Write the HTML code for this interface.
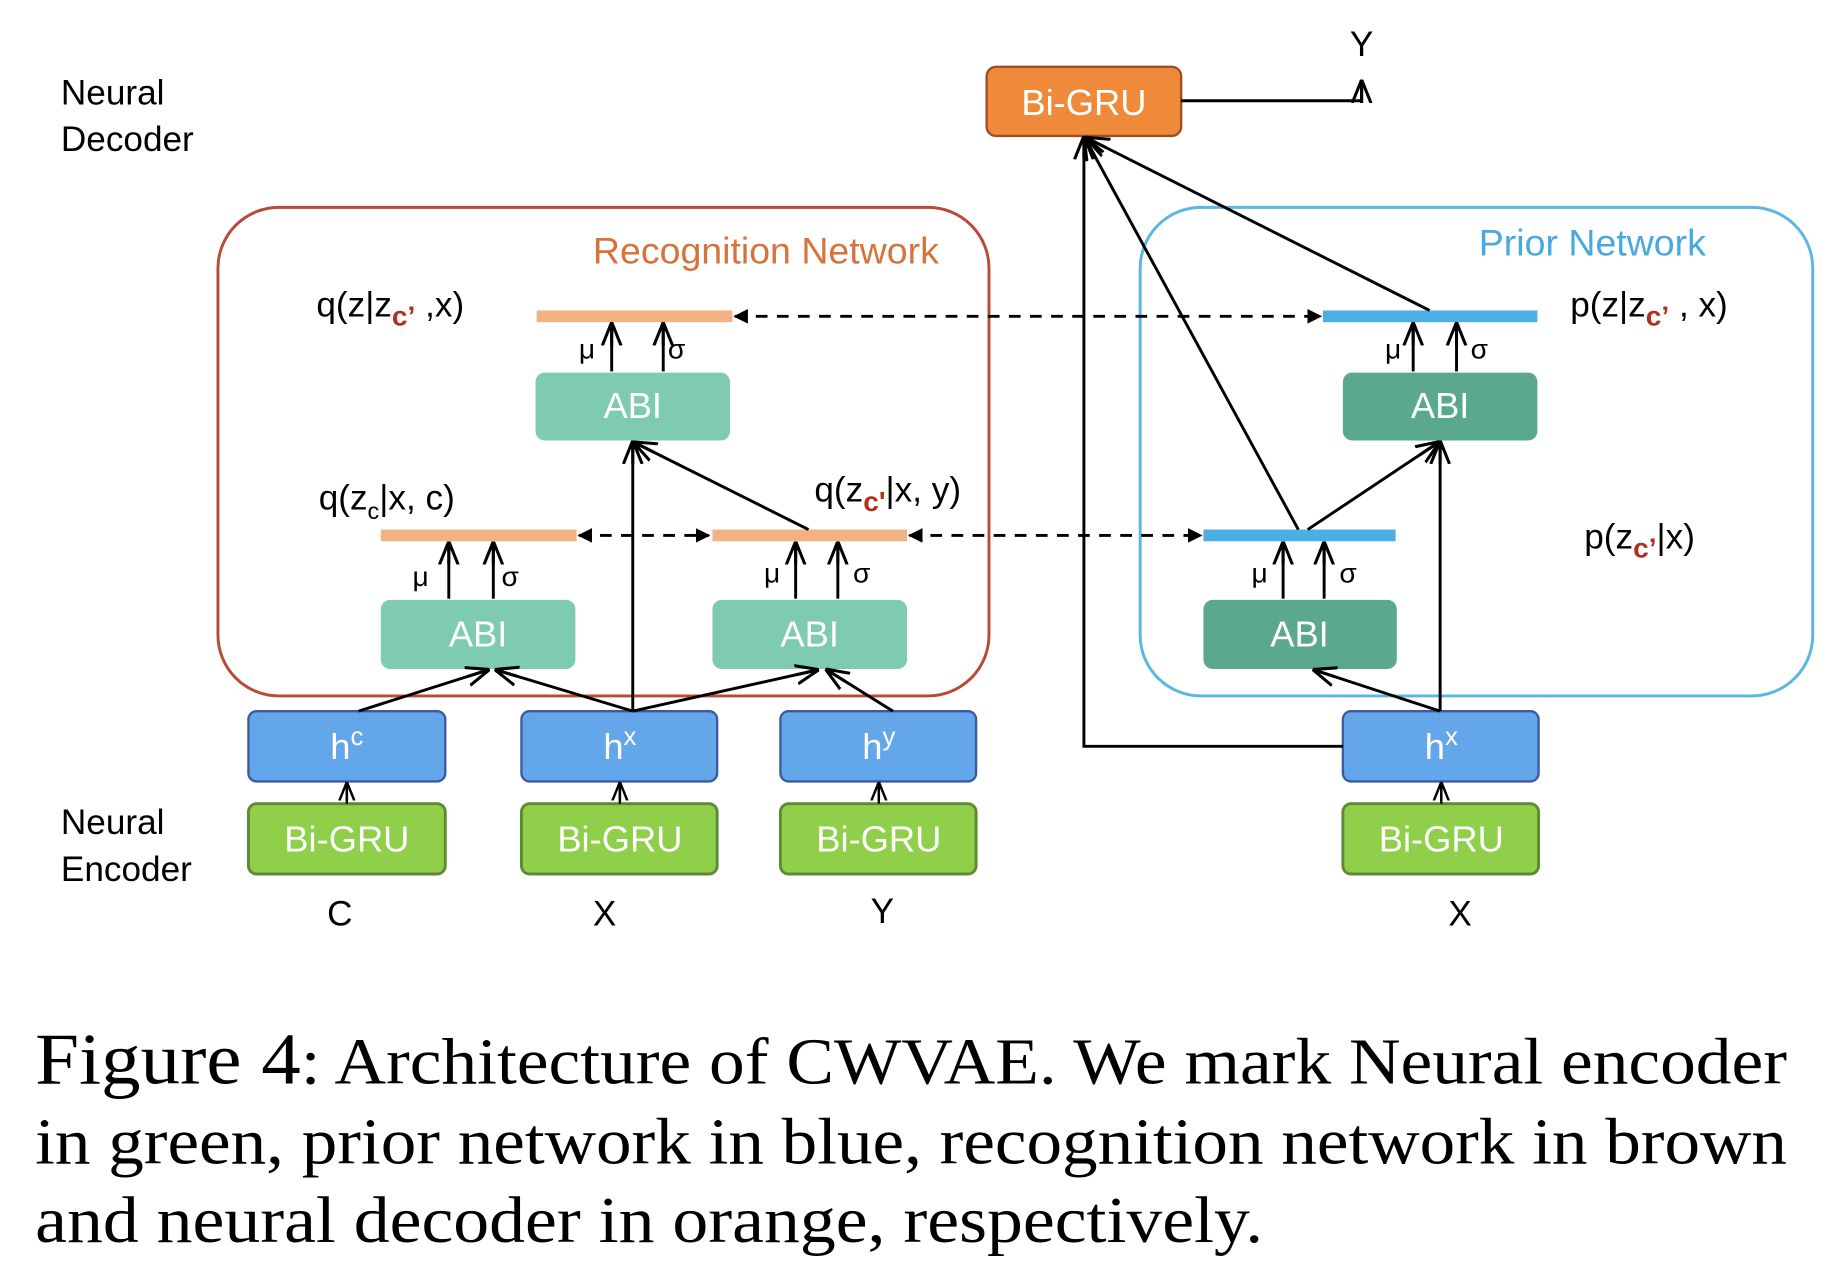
<!DOCTYPE html>
<html><head><meta charset="utf-8"><style>
html,body{margin:0;padding:0;background:#fff;}
svg{display:block}
text{font-family:"Liberation Sans",sans-serif;}
text.cap{font-family:"Liberation Serif",serif;}
</style></head><body>
<svg width="1828" height="1270" viewBox="0 0 1560 1084" preserveAspectRatio="none" xmlns="http://www.w3.org/2000/svg">
<defs>
<marker id="o" viewBox="0 0 10 10" refX="9" refY="5" markerWidth="8" markerHeight="8" orient="auto"><path d="M0,1 L10,5 L0,9 M10,5 L0,5" fill="none" stroke="#000" stroke-width="1.3"/></marker>
<marker id="f" viewBox="0 0 10 10" refX="9" refY="5" markerWidth="5" markerHeight="5" orient="auto-start-reverse"><path d="M0,0 L10,5 L0,10 z" fill="#000"/></marker>
</defs>
<g font-size="30" fill="#000">
<text x="52" y="89">Neural</text><text x="52" y="129">Decoder</text>
<text x="52" y="712">Neural</text><text x="52" y="752">Encoder</text>
</g>
<rect x="186" y="177" width="658" height="417" rx="52" fill="none" stroke="#b94a35" stroke-width="2.5"/>
<rect x="973" y="177" width="574" height="417" rx="52" fill="none" stroke="#5ab6e2" stroke-width="2.5"/>
<text x="506" y="225" font-size="32" fill="#d5733a">Recognition Network</text>
<text x="1262" y="218" font-size="32" fill="#48a9e0">Prior Network</text>
<rect x="842" y="57" width="166" height="59" rx="8" fill="#ef8a3b" stroke="#a04e20" stroke-width="2"/>
<text x="925" y="98" font-size="31" fill="#fff" text-anchor="middle">Bi-GRU</text>
<text x="1162" y="48" font-size="30" text-anchor="middle">Y</text>
<polyline points="1008,86 1162,86 1162,70" fill="none" stroke="#000" stroke-width="2.5" marker-end="url(#o)"/>
<rect x="458" y="265" width="167" height="10" fill="#f4b183"/>
<rect x="325" y="452" width="167" height="10" fill="#f4b183"/>
<rect x="608" y="452" width="166" height="10" fill="#f4b183"/>
<rect x="1129" y="265" width="183" height="10" fill="#4baee4"/>
<rect x="1027" y="452" width="164" height="10" fill="#4baee4"/>
<g font-size="31" fill="#fff" text-anchor="middle">
<rect x="457" y="318" width="166" height="58" rx="8" fill="#7ecbb0"/><text x="540" y="357">ABI</text>
<rect x="325" y="512" width="166" height="59" rx="8" fill="#7ecbb0"/><text x="408" y="552">ABI</text>
<rect x="608" y="512" width="166" height="59" rx="8" fill="#7ecbb0"/><text x="691" y="552">ABI</text>
<rect x="1146" y="318" width="166" height="58" rx="8" fill="#5aa98c"/><text x="1229" y="357">ABI</text>
<rect x="1027" y="512" width="165" height="59" rx="8" fill="#5aa98c"/><text x="1109" y="552">ABI</text>
</g>
<g font-size="31" fill="#fff" text-anchor="middle">
<rect x="212" y="607" width="168" height="60" rx="7" fill="#63a6ea" stroke="#3b5c9c" stroke-width="2"/><text x="296" y="648">h<tspan dy="-12" font-size="22">c</tspan></text>
<rect x="445" y="607" width="167" height="60" rx="7" fill="#63a6ea" stroke="#3b5c9c" stroke-width="2"/><text x="529" y="648">h<tspan dy="-12" font-size="22">x</tspan></text>
<rect x="666" y="607" width="167" height="60" rx="7" fill="#63a6ea" stroke="#3b5c9c" stroke-width="2"/><text x="750" y="648">h<tspan dy="-12" font-size="22">y</tspan></text>
<rect x="1146" y="607" width="167" height="60" rx="7" fill="#63a6ea" stroke="#3b5c9c" stroke-width="2"/><text x="1230" y="648">h<tspan dy="-12" font-size="22">x</tspan></text>
<rect x="212" y="686" width="168" height="60" rx="7" fill="#8fcf4a" stroke="#5f8a35" stroke-width="2.5"/><text x="296" y="727">Bi-GRU</text>
<rect x="445" y="686" width="167" height="60" rx="7" fill="#8fcf4a" stroke="#5f8a35" stroke-width="2.5"/><text x="529" y="727">Bi-GRU</text>
<rect x="666" y="686" width="167" height="60" rx="7" fill="#8fcf4a" stroke="#5f8a35" stroke-width="2.5"/><text x="750" y="727">Bi-GRU</text>
<rect x="1146" y="686" width="167" height="60" rx="7" fill="#8fcf4a" stroke="#5f8a35" stroke-width="2.5"/><text x="1230" y="727">Bi-GRU</text>
</g>
<g font-size="30" text-anchor="middle">
<text x="290" y="790">C</text><text x="516" y="790">X</text><text x="753" y="788">Y</text><text x="1246" y="790">X</text>
</g>
<g stroke="#000" stroke-width="2" marker-end="url(#o)">
<line x1="296" y1="686" x2="296" y2="669"/><line x1="529" y1="686" x2="529" y2="669"/>
<line x1="750" y1="686" x2="750" y2="669"/><line x1="1230" y1="686" x2="1230" y2="669"/>
</g>
<g stroke="#000" stroke-width="2.5" marker-end="url(#o)">
<line x1="522" y1="317" x2="522" y2="277"/><line x1="566" y1="317" x2="566" y2="277"/>
<line x1="383" y1="511" x2="383" y2="464"/><line x1="421" y1="511" x2="421" y2="464"/>
<line x1="679" y1="511" x2="679" y2="464"/><line x1="715" y1="511" x2="715" y2="464"/>
<line x1="1206" y1="317" x2="1206" y2="277"/><line x1="1243" y1="317" x2="1243" y2="277"/>
<line x1="1095" y1="511" x2="1095" y2="464"/><line x1="1130" y1="511" x2="1130" y2="464"/>
</g>
<g font-size="24">
<text x="494" y="306">μ</text><text x="570" y="306">σ</text>
<text x="352" y="500">μ</text><text x="428" y="500">σ</text>
<text x="652" y="497">μ</text><text x="728" y="497">σ</text>
<text x="1182" y="306">μ</text><text x="1255" y="306">σ</text>
<text x="1068" y="497">μ</text><text x="1143" y="497">σ</text>
</g>
<g font-size="30">
<text x="270" y="270">q(z|z<tspan dy="8" fill="#b0301c" font-weight="bold" font-size="24">c’</tspan><tspan dy="-8"> ,x)</tspan></text>
<text x="272" y="435">q(z<tspan dy="8" font-size="20">c</tspan><tspan dy="-8">|x, c)</tspan></text>
<text x="695" y="428">q(z<tspan dy="8" fill="#b0301c" font-weight="bold" font-size="24">c'</tspan><tspan dy="-8">|x, y)</tspan></text>
<text x="1340" y="270">p(z|z<tspan dy="8" fill="#b0301c" font-weight="bold" font-size="24">c’</tspan><tspan dy="-8"> , x)</tspan></text>
<text x="1352" y="468">p(z<tspan dy="8" fill="#b0301c" font-weight="bold" font-size="24">c’</tspan><tspan dy="-8">|x)</tspan></text>
</g>
<g stroke="#000" stroke-width="2.5" stroke-dasharray="10,8" fill="none">
<line x1="627" y1="270" x2="1127" y2="270" marker-start="url(#f)" marker-end="url(#f)"/>
<line x1="494" y1="457" x2="605" y2="457" marker-start="url(#f)" marker-end="url(#f)"/>
<line x1="776" y1="457" x2="1025" y2="457" marker-start="url(#f)" marker-end="url(#f)"/>
</g>
<g stroke="#000" stroke-width="2.5" fill="none" marker-end="url(#o)">
<line x1="306" y1="607" x2="416" y2="572"/>
<line x1="540" y1="607" x2="424" y2="572"/>
<line x1="540" y1="607" x2="540" y2="378"/>
<line x1="540" y1="607" x2="697" y2="572"/>
<line x1="762" y1="607" x2="706" y2="572"/>
<line x1="690" y1="452" x2="542" y2="378"/>
<line x1="1229" y1="607" x2="1229" y2="378"/>
<line x1="1229" y1="607" x2="1122" y2="572"/>
<line x1="1116" y1="452" x2="1227" y2="378"/>
<line x1="1108" y1="452" x2="926" y2="118"/>
<line x1="1220" y1="265" x2="928" y2="118"/>
<polyline points="1146,637 925,637 925,118"/>
</g>
<g font-size="56" fill="#000">
<text class="cap" x="30" y="925" textLength="1495" lengthAdjust="spacingAndGlyphs"><tspan font-size="62">Figure 4</tspan>:  Architecture of CWVAE. We mark Neural encoder</text>
<text class="cap" x="30" y="993" textLength="1495" lengthAdjust="spacingAndGlyphs">in green, prior network in blue, recognition network in brown</text>
<text class="cap" x="30" y="1060" textLength="1048" lengthAdjust="spacingAndGlyphs">and neural decoder in orange, respectively.</text>
</g>
</svg>
</body></html>
